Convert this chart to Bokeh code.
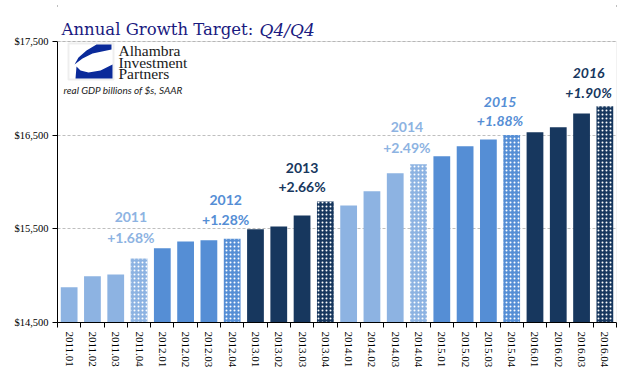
from bokeh.plotting import figure
from bokeh.embed import file_html
from bokeh.resources import INLINE
from bokeh.models import (ColumnDataSource, FixedTicker, NumeralTickFormatter, Range1d,
                          Label, BoxAnnotation, PolyAnnotation)

# ---------------- data ----------------
quarters = ["2011.01", "2011.02", "2011.03", "2011.04",
            "2012.01", "2012.02", "2012.03", "2012.04",
            "2013.01", "2013.02", "2013.03", "2013.04",
            "2014.01", "2014.02", "2014.03", "2014.04",
            "2015.01", "2015.02", "2015.03", "2015.04",
            "2016.01", "2016.02", "2016.03", "2016.04"]
gdp = [14877, 14994, 15012, 15183,
       15293, 15364, 15378, 15393,
       15496, 15525, 15642, 15791,
       15749, 15901, 16094, 16190,
       16275, 16382, 16453, 16503,
       16531, 16584, 16730, 16810]
years = ["2011", "2012", "2013", "2014", "2015", "2016"]
growth = ["+1.68%", "+1.28%", "+2.66%", "+2.49%", "+1.88%", "+1.90%"]
y_ticks = [14500, 15500, 16500, 17500]
Y_MIN, Y_MAX = 14500, 17500

LIGHT, MED, NAVY = "#8DB3E2", "#558ED5", "#17375E"
year_colors = [LIGHT, MED, NAVY, LIGHT, MED, NAVY]

bar_colors = [year_colors[i // 4] for i in range(len(quarters))]
xs = list(range(len(quarters)))
solid = [i for i in xs if i % 4 != 3]
dotted = [i for i in xs if i % 4 == 3]

src_solid = ColumnDataSource(dict(x=[xs[i] for i in solid], top=[gdp[i] for i in solid],
                                  color=[bar_colors[i] for i in solid]))
src_dot = ColumnDataSource(dict(x=[xs[i] for i in dotted], top=[gdp[i] for i in dotted],
                                color=[bar_colors[i] for i in dotted]))

W, H = 641, 375
FL, FR, FT, FB = 57, 616, 3, 322     # frame edges (canvas px); frame extends up to hold title
AXIS_TOP_PX = 41                      # canvas y of the 17,500 line
units_per_px = (Y_MAX - Y_MIN) / (FB - AXIS_TOP_PX)
y_top = Y_MIN + (FB - FT) * units_per_px

p = figure(width=W, height=H, output_backend="svg", toolbar_location=None,
           x_range=Range1d(-0.5, len(quarters) - 0.5), y_range=Range1d(Y_MIN, y_top),
           min_border_left=FL, min_border_right=W - FR, min_border_top=FT,
           min_border_bottom=H - FB)
p.background_fill_color = "white"
p.border_fill_color = "white"
p.outline_line_color = None
p.styles = {"outline": "2px solid black", "outline-offset": "-7px"}

p.vbar(x="x", top="top", bottom=Y_MIN, width=0.72, source=src_solid,
       fill_color="color", line_color=None)
p.vbar(x="x", top="top", bottom=Y_MIN, width=0.72, source=src_dot,
       fill_color="color", line_color=None, hatch_pattern=".", hatch_color="white",
       hatch_scale=4, hatch_weight=1)

# axes
xa = p.xaxis[0]
xa.ticker = FixedTicker(ticks=xs, minor_ticks=[i - 0.5 for i in range(len(quarters) + 1)])
xa.major_label_overrides = {i: q for i, q in enumerate(quarters)}
xa.major_label_orientation = "vertical"
xa.major_tick_out = 0
xa.major_tick_in = 0
xa.minor_tick_out = 5
xa.minor_tick_in = 0
xa.minor_tick_line_color = "black"
xa.axis_line_color = "black"
xa.major_label_text_font = "Liberation Serif"
xa.major_label_text_font_size = "11px"
xa.major_label_text_color = "black"
xa.major_label_standoff = 4

ya = p.yaxis[0]
ya.ticker = FixedTicker(ticks=y_ticks)
ya.bounds = (Y_MIN, Y_MAX)
ya.formatter = NumeralTickFormatter(format="$0,0")
ya.major_tick_out = 5
ya.major_tick_in = 0
ya.minor_tick_line_color = None
ya.axis_line_color = "black"
ya.major_label_text_font = "Liberation Serif"
ya.major_label_text_font_size = "10.5px"
ya.major_label_text_color = "black"
ya.major_label_standoff = 4

p.xgrid.grid_line_color = None
p.ygrid.grid_line_color = "#BFBFBF"
p.ygrid.grid_line_dash = "3 2"

# plot-area outline (top and right edges only; others fall outside the frame)
p.add_layout(BoxAnnotation(left=-2, right=len(quarters) - 0.5, bottom=Y_MIN - 500, top=Y_MAX,
                           fill_alpha=0, line_color="#A6A6A6", line_width=1))

# year / growth annotations (positions above each year's bars)
lab_x = [2.65, 6.72, 10.0, 14.5, 18.5, 22.3]
lab_y_year = [15621, 15813, 16154, 16586, 16859, 17168]
lab_y_pct = [15407, 15599, 15951, 16368, 16656, 16955]
italic = [False, False, False, False, True, True]
for k in range(len(years)):
    style = "bold italic" if italic[k] else "bold"
    for txt, yy in ((years[k], lab_y_year[k]), (growth[k], lab_y_pct[k])):
        p.add_layout(Label(x=lab_x[k], y=yy, text=txt, text_align="center",
                           text_baseline="middle", text_font="Lato",
                           text_font_size="14px", text_font_style=style,
                           text_color=year_colors[k]))

# helpers: canvas px -> screen units (relative to frame bottom-left)
def sx(cx):
    return cx - FL

def sy(cy):
    return FB - cy

# title
TITLE_C = "#1A1A80"
p.add_layout(Label(x=sx(61), y=sy(29), x_units="screen", y_units="screen",
                   text="Annual Growth Target:", text_font="DejaVu Serif",
                   text_font_size="16.5px", text_color=TITLE_C,
                   text_baseline="alphabetic"))
p.add_layout(Label(x=sx(259), y=sy(29), x_units="screen", y_units="screen",
                   text="Q4/Q4", text_font="DejaVu Serif", text_font_style="italic",
                   text_font_size="17px", text_color=TITLE_C,
                   text_baseline="alphabetic"))

# logo
p.add_layout(BoxAnnotation(left=sx(68), right=sx(113), top=sy(43), bottom=sy(79),
                           left_units="screen", right_units="screen",
                           top_units="screen", bottom_units="screen",
                           fill_color="white", fill_alpha=1, line_color="#C8C8C8", line_width=2))
LOGO_BLUE = "#0A2A9A"
p.add_layout(PolyAnnotation(xs=[sx(v) for v in (111, 96, 86, 78, 74, 82, 92, 111)],
                            ys=[sy(v) for v in (44, 44, 50, 57, 64, 58, 53, 49)],
                            xs_units="screen", ys_units="screen",
                            fill_color=LOGO_BLUE, fill_alpha=1, line_color=None))
p.add_layout(PolyAnnotation(xs=[sx(v) for v in (75, 112, 112, 100, 88, 80, 76)],
                            ys=[sy(v) for v in (78, 78, 64, 70, 72, 70, 66)],
                            xs_units="screen", ys_units="screen",
                            fill_color=LOGO_BLUE, fill_alpha=1, line_color=None))
for txt, cy in (("Alhambra", 50), ("Investment", 62), ("Partners", 73)):
    p.add_layout(Label(x=sx(118), y=sy(cy), x_units="screen", y_units="screen",
                       text=txt, text_font="Liberation Serif", text_font_size="15.5px",
                       text_color="#1A1A1A", text_baseline="middle"))
p.add_layout(Label(x=sx(63), y=sy(89), x_units="screen", y_units="screen",
                   text="real GDP billions of $s, SAAR", text_font="Lato",
                   text_font_style="italic", text_font_size="10px",
                   text_color="#222222", text_baseline="middle"))

open("out.html", "w").write(file_html(p, INLINE))
